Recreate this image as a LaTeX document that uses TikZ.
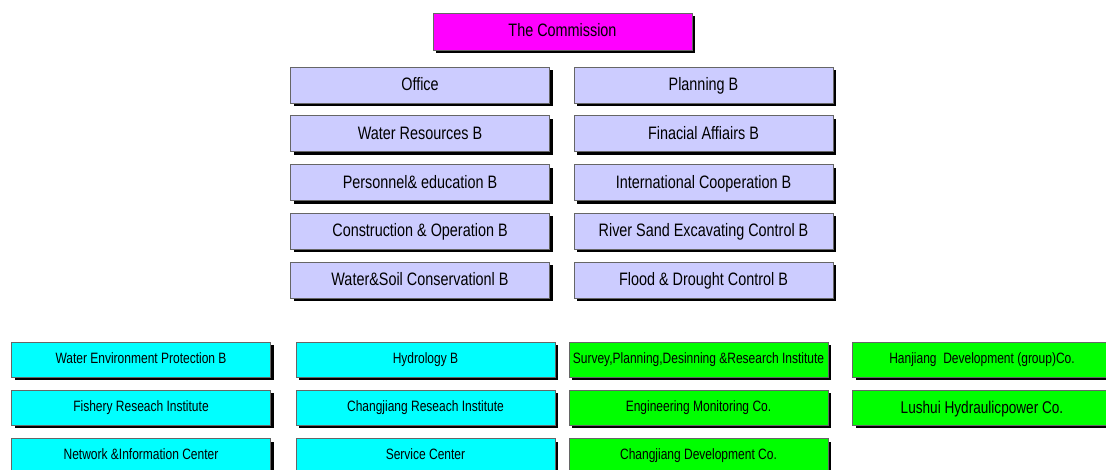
\documentclass[tikz,border=0pt]{standalone}
\usepackage{fontspec}
\setmainfont{Liberation Sans}[FakeStretch=0.8]
\usetikzlibrary{positioning, shadows}
\definecolor{mag}{RGB}{255,0,255}
\definecolor{lav}{RGB}{204,204,255}
\definecolor{cyn}{RGB}{0,255,255}
\definecolor{grn}{RGB}{0,255,0}
\tikzset{box/.style={draw=black!60, line width=0.8pt, minimum width=259pt, minimum height=36pt, inner sep=0pt,
    text height=12pt, text depth=1pt,
    drop shadow={shadow xshift=3pt, shadow yshift=-3pt, fill=black, opacity=1},
    font=\fontsize{18}{20}\selectfont},
  dept/.style={box, fill=lav},
  unit/.style={box, minimum height=35pt, text height=10pt, text depth=2.5pt, font=\fontsize{15}{17}\selectfont}}

\begin{document}
\begin{tikzpicture}[x=1pt, y=-1pt, node distance=12pt]
    \path[use as bounding box, clip] (0,0) rectangle (1106,470);
    \node[box, fill=mag, minimum height=37pt] (com) at (562.5,31.5) {The Commission};
    % bureaus
    \node[dept] (off) at (420,85) {Office};
    \node[dept, below=of off] (wr) {Water Resources B};
    \node[dept, below=of wr] (pe) {Personnel\& education B};
    \node[dept, below=of pe] (co) {Construction \& Operation B};
    \node[dept, below=of co] (ws) {Water\&Soil Conservationl B};
    \node[dept] (plan) at (703.5,85) {Planning B};
    \node[dept, below=of plan] (fa) {Finacial Affiairs B};
    \node[dept, below=of fa] (ic) {International Cooperation B};
    \node[dept, below=of ic] (rs) {River Sand Excavating Control B};
    \node[dept, below=of rs] (fd) {Flood \& Drought Control B};
    % affiliated units
    \begin{scope}[node distance=12.5pt]
    \node[unit, fill=cyn] (wep) at (141,359.5) {Water Environment Protection B};
    \node[unit, fill=cyn, below=of wep] (fri) {Fishery Reseach Institute};
    \node[unit, fill=cyn, below=of fri] (nic) {Network \&Information Center};
    \node[unit, fill=cyn] (hyd) at (425.5,359.5) {Hydrology B};
    \node[unit, fill=cyn, below=of hyd] (cri) {Changjiang Reseach Institute};
    \node[unit, fill=cyn, below=of cri] (sc) {Service Center};
    \node[unit, fill=grn] (spd) at (698.5,359.5) {Survey,Planning,Desinning \&Research Institute};
    \node[unit, fill=grn, below=of spd] (emc) {Engineering Monitoring Co.};
    \node[unit, fill=grn, below=of emc] (cdc) {Changjiang Development Co.};
    \node[unit, fill=grn] (hdc) at (982,359.5) {Hanjiang\ \ Development (group)Co.};
    \node[unit, fill=grn, below=of hdc, text height=12pt, text depth=1pt, font=\fontsize{17}{19}\selectfont] (lhc) {Lushui Hydraulicpower Co.};
    \end{scope}
\end{tikzpicture}
\end{document}
